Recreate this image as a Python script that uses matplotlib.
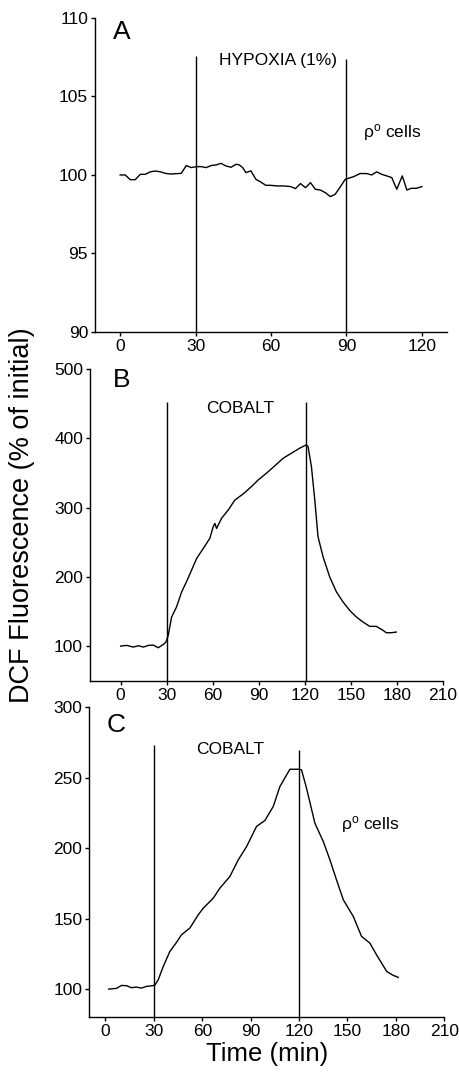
import matplotlib
matplotlib.use('Agg')
import matplotlib.pyplot as plt

plt.rcParams['font.family'] = ['Liberation Sans', 'DejaVu Sans']
plt.rcParams['mathtext.fontset'] = 'custom'
plt.rcParams['mathtext.rm'] = 'Liberation Sans'
plt.rcParams['mathtext.it'] = 'Liberation Sans:italic'

# --- Panel A: hypoxia, rho0 cells ---
a_time = [0, 2, 4, 6, 8, 10, 12, 14, 16, 18, 20, 22, 24.3, 26.3, 28.3, 30.3, 32.2, 34.2,
          36.2, 38.2, 40.1, 42.1, 44.1, 46.1, 47.4, 48.7, 50, 52, 54, 55.9, 57.9, 59.9,
          62.5, 65.1, 67.8, 69.7, 71.7, 73.7, 75.7, 77.6, 79.6, 81.6, 83.6, 85.5, 87.5,
          89.5, 90.8, 92.8, 95.4, 98, 100, 102, 104, 106, 108, 110, 112.2, 114, 115.8,
          117.8, 120]
a_dcf = [100, 100, 99.7, 99.7, 100.04, 100.04, 100.2, 100.25, 100.2, 100.1, 100.06,
         100.08, 100.1, 100.6, 100.47, 100.53, 100.53, 100.47, 100.6, 100.64, 100.74,
         100.57, 100.49, 100.68, 100.64, 100.47, 100.15, 100.26, 99.72, 99.55, 99.34,
         99.34, 99.3, 99.3, 99.26, 99.13, 99.45, 99.19, 99.51, 99.09, 99.04, 98.87,
         98.62, 98.77, 99.23, 99.72, 99.79, 99.89, 100.09, 100.09, 100, 100.2, 100.04,
         99.94, 99.83, 99.09, 99.94, 99.04, 99.15, 99.15, 99.26]

# --- Panel B: cobalt ---
b_time = [0, 3.9, 8.2, 11.5, 14.8, 18, 21.3, 24.5, 27.8, 29.5, 31, 33.2, 36.4, 39.7,
          42.9, 46.2, 49.5, 53.8, 58.1, 60.3, 61.4, 62.5, 65.7, 70.1, 74.4, 79.8, 85.2,
          89.6, 95, 100.4, 105.9, 111.3, 116.7, 121, 122.1, 124.3, 126.5, 128.6, 131.9,
          136.2, 140.6, 144.9, 149.2, 153.6, 157.9, 162.3, 166.6, 171, 173.1, 176.4, 179.6]
b_dcf = [100, 101, 98.6, 100.5, 98.6, 101, 101.4, 97.6, 102.4, 105.8, 115.5, 142, 156.5,
         178, 193, 209.7, 226.6, 241, 255.6, 272.5, 277.3, 270, 284.5, 296.6, 311, 319.8,
         330.4, 340, 349.8, 360.4, 371.5, 378.7, 386, 390.8, 388.4, 359.4, 311, 258, 229,
         200, 178.3, 163.8, 151.7, 142, 134.8, 128.5, 128.5, 122.7, 119.3, 119.3, 120.3]

# --- Panel C: cobalt, rho0 cells ---
c_time = [2, 6.8, 9.9, 13, 16.1, 19.2, 22.3, 25.4, 29.1, 30.6, 32.7, 35.8, 39.9, 44,
          47.1, 52.3, 57.5, 60.6, 66.8, 70.9, 77.1, 82.3, 87.5, 93.6, 98.8, 104, 108.1,
          114.3, 119.5, 121.5, 124.6, 129.8, 135, 139.1, 143.2, 147.4, 153.6, 158.7,
          163.9, 168, 174.3, 178.4, 181.5]
c_dcf = [100, 100.5, 102.6, 102.4, 101, 101.4, 100.7, 101.9, 102.4, 102.8, 106.6, 116,
         126.7, 133.1, 138.5, 143.3, 152.7, 157.4, 164.5, 171.6, 179.9, 191.7, 201.2,
         215.4, 219.6, 229.6, 243.7, 256, 256, 255.6, 242.6, 217.7, 204.7, 191.7, 177.5,
         163.4, 151.5, 137.4, 132.6, 124.3, 112.5, 109.7, 108.3]

fig = plt.figure(figsize=(4.59, 10.75), dpi=100)
axA = fig.add_axes([0.207, 0.6912, 0.767, 0.2921])
axB = fig.add_axes([0.196, 0.3668, 0.769, 0.2897])
axC = fig.add_axes([0.1946, 0.0537, 0.7734, 0.2884])

rho_label = 'ρ$^{\\mathrm{o}}$ cells'


def style(ax):
    for s in ['top', 'right']:
        ax.spines[s].set_visible(False)
    for s in ['left', 'bottom']:
        ax.spines[s].set_linewidth(1.0)
    ax.tick_params(direction='out', length=3, width=1, labelsize=12.5, pad=2)


# Panel A
axA.plot(a_time, a_dcf, color='black', lw=1)
axA.vlines([30], 90, 107.6, color='black', lw=1)
axA.vlines([90], 90, 107.4, color='black', lw=1)
axA.set_xlim(-10, 130)
axA.set_ylim(90, 110)
axA.set_xticks([0, 30, 60, 90, 120])
axA.set_yticks([90, 95, 100, 105, 110])
axA.text(62.8, 107.3, 'HYPOXIA (1%)', ha='center', va='center', fontsize=12.5)
axA.text(96.5, 102.7, rho_label, ha='left', va='center', fontsize=12.5)
axA.text(-3, 109.1, 'A', ha='left', va='center', fontsize=19)
style(axA)

# Panel B
axB.plot(b_time, b_dcf, color='black', lw=1)
axB.vlines([30, 121], 50, 453, color='black', lw=1)
axB.set_xlim(-20, 210)
axB.set_ylim(50, 500)
axB.set_xticks([0, 30, 60, 90, 120, 150, 180, 210])
axB.set_yticks([100, 200, 300, 400, 500])
axB.text(78, 444, 'COBALT', ha='center', va='center', fontsize=12.5)
axB.text(-5, 485, 'B', ha='left', va='center', fontsize=19)
style(axB)

# Panel C
axC.plot(c_time, c_dcf, color='black', lw=1)
axC.vlines([30], 80, 273, color='black', lw=1)
axC.vlines([120], 80, 270, color='black', lw=1)
axC.set_xlim(-10, 210)
axC.set_ylim(80, 300)
axC.set_xticks([0, 30, 60, 90, 120, 150, 180, 210])
axC.set_yticks([100, 150, 200, 250, 300])
axC.text(77.5, 269.7, 'COBALT', ha='center', va='center', fontsize=12.5)
axC.text(146, 216.5, rho_label, ha='left', va='center', fontsize=12.5)
axC.text(0.5, 287.5, 'C', ha='left', va='center', fontsize=19)
axC.set_xlabel('Time (min)', fontsize=18.5, labelpad=2)
style(axC)

fig.text(0.048, 0.521, 'DCF Fluorescence (% of initial)', rotation=90,
         ha='center', va='center', fontsize=19.5)

fig.savefig('out.png', dpi=100)
